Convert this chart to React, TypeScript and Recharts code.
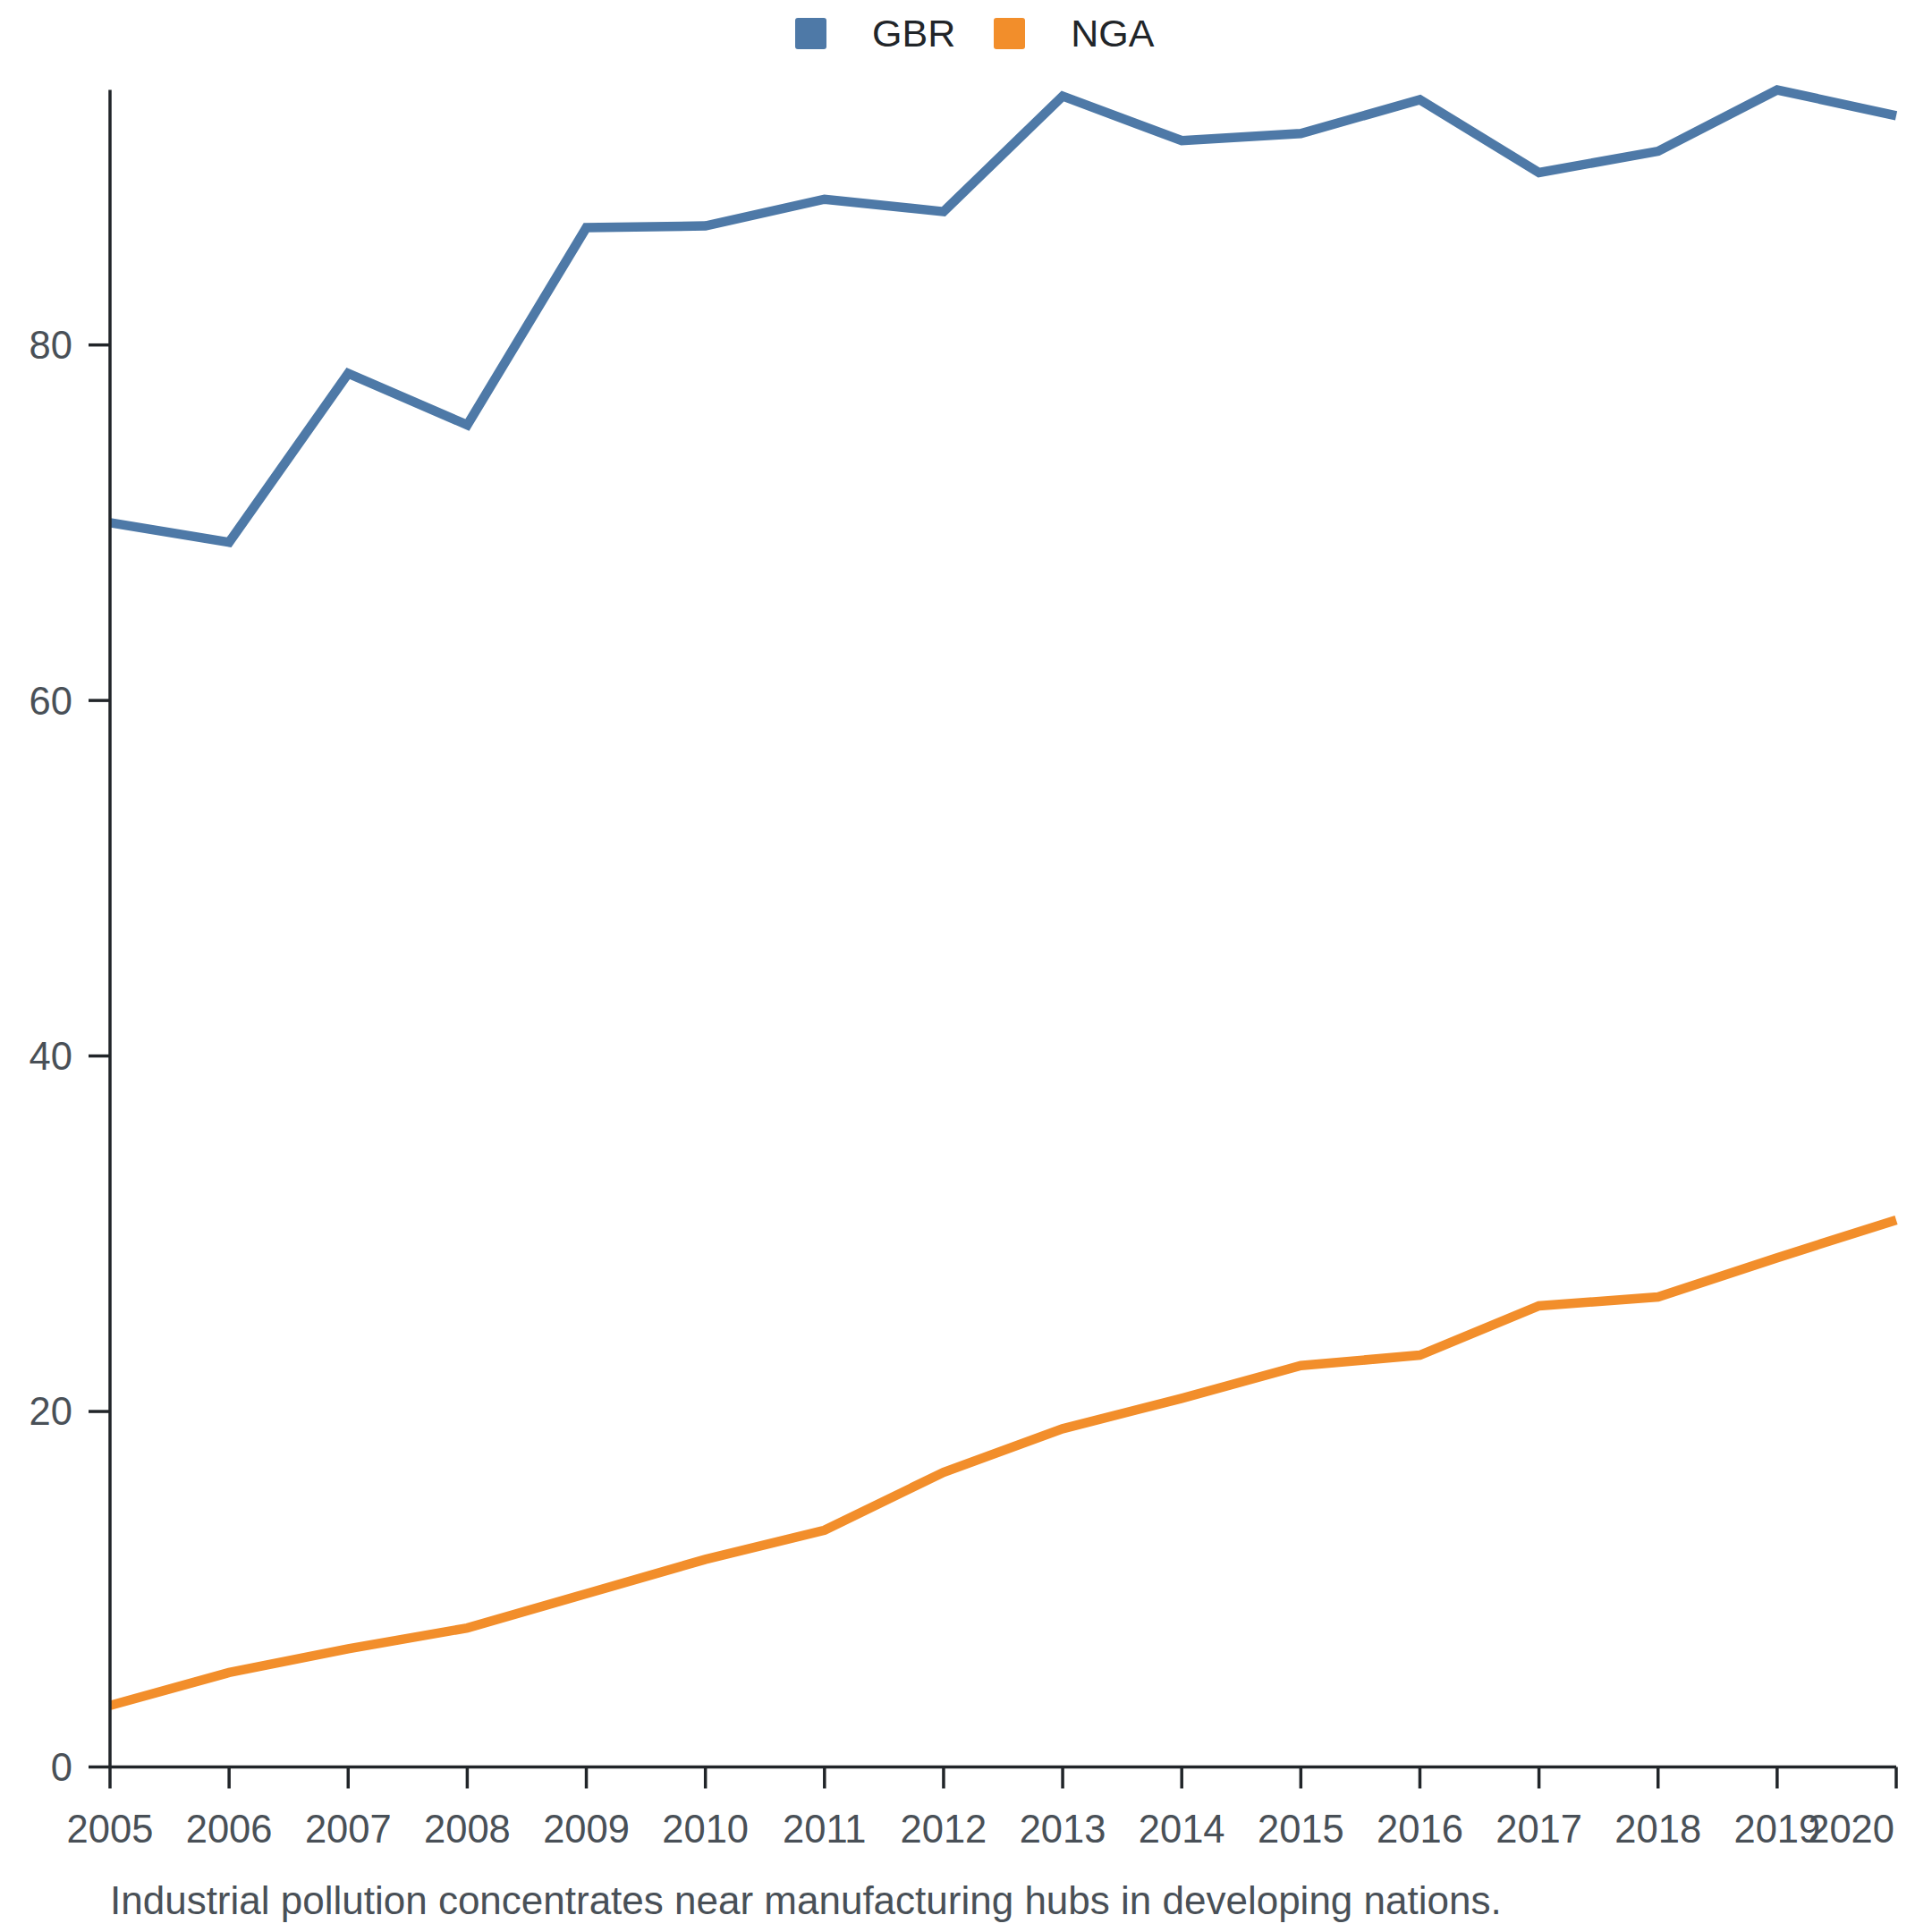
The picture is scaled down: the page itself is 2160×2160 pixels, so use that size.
import { LineChart, Line, XAxis, YAxis, Legend } from "recharts";

const years = [2005, 2006, 2007, 2008, 2009, 2010, 2011, 2012, 2013, 2014, 2015, 2016, 2017, 2018, 2019, 2020];
const gbr = [70.0, 68.9, 78.4, 75.5, 86.6, 86.7, 88.2, 87.5, 94.0, 91.5, 91.9, 93.8, 89.7, 90.9, 94.35, 92.9];
const nga = [3.46, 5.31, 6.65, 7.82, 9.75, 11.68, 13.32, 16.58, 19.03, 20.74, 22.58, 23.17, 25.94, 26.44, 28.65, 30.77];
const yTicks = [0, 20, 40, 60, 80];
const seriesNames = ["GBR", "NGA"];
const colors = ["#4e79a7", "#f28e2b"];
const caption = "Industrial pollution concentrates near manufacturing hubs in developing nations.";

const data = years.map((year, i) => ({ year, GBR: gbr[i], NGA: nga[i] }));

const axisColor = "#212529";
const labelColor = "#495057";

function XTick(props: any) {
  const { x, y, payload } = props;
  const last = payload.value === years[years.length - 1];
  return (
    <text
      x={last ? x - 2 : x}
      y={y}
      dy={60.5}
      textAnchor={last ? "end" : "middle"}
      fill={labelColor}
      fontSize={43.5}
    >
      {payload.value}
    </text>
  );
}

function LegendContent() {
  return (
    <div style={{ display: "flex", alignItems: "center", height: 35 }}>
      {seriesNames.map((name, i) => (
        <div key={name} style={{ display: "flex", alignItems: "center", marginRight: i === 0 ? 43 : 0 }}>
          <div style={{ width: 35, height: 35, borderRadius: 3, background: colors[i], marginRight: 51 }} />
          <span style={{ fontSize: 43, lineHeight: "35px", color: axisColor }}>{name}</span>
        </div>
      ))}
    </div>
  );
}

export default function App() {
  return (
    <div
      style={{
        position: "absolute",
        left: 0,
        top: 0,
        width: 2160,
        height: 2160,
        background: "#fff",
        fontFamily: "'Liberation Sans', Arial, sans-serif",
      }}
    >
      <LineChart width={2160} height={2160} data={data} margin={{ top: 100.5, right: 40, left: 0, bottom: 104.5 }}>
        <XAxis
          dataKey="year"
          type="number"
          domain={[2005, 2020]}
          ticks={years}
          interval={0}
          height={80}
          tickSize={24}
          tickMargin={0}
          axisLine={{ stroke: axisColor, strokeWidth: 3.5 }}
          tickLine={{ stroke: axisColor, strokeWidth: 3.5 }}
          tick={<XTick />}
        />
        <YAxis
          domain={[0, "dataMax"]}
          ticks={yTicks}
          width={123}
          tickSize={24}
          tickMargin={18}
          axisLine={{ stroke: axisColor, strokeWidth: 3.5 }}
          tickLine={{ stroke: axisColor, strokeWidth: 3.5 }}
          tick={{ fill: labelColor, fontSize: 43.5 }}
        />
        <Legend
          verticalAlign="middle"
          align="center"
          wrapperStyle={{ top: 20, left: 889, width: "auto", height: 35 }}
          content={<LegendContent />}
        />
        {seriesNames.map((name, i) => (
          <Line
            key={name}
            type="linear"
            dataKey={name}
            stroke={colors[i]}
            strokeWidth={10.5}
            dot={false}
            activeDot={false}
            isAnimationActive={false}
          />
        ))}
      </LineChart>
      <div
        style={{
          position: "absolute",
          left: 123,
          top: 2102.8,
          fontSize: 44,
          lineHeight: "44px",
          color: labelColor,
          whiteSpace: "nowrap",
        }}
      >
        {caption}
      </div>
    </div>
  );
}
